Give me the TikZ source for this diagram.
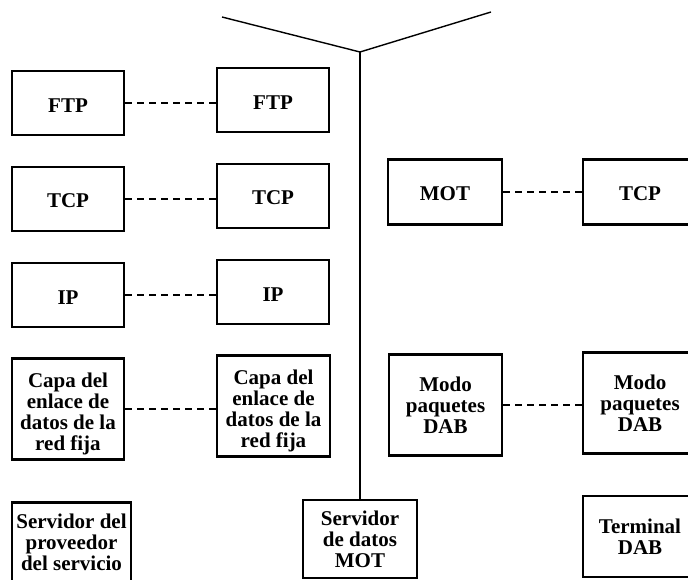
\documentclass[tikz,border=0pt]{standalone}
\usepackage{fontspec}
\setmainfont{Liberation Serif}
\begin{document}
\begin{tikzpicture}[x=1pt,y=-1pt,
  layerbox/.style={draw, line width=2.2pt, inner sep=0pt,
    minimum width=112pt, minimum height=64pt, align=center,
    font=\fontsize{21}{21}\selectfont\bfseries,
    execute at begin node={\rule{0pt}{18pt}}},
  tallbox/.style={layerbox, minimum height=101pt},
  linkbox/.style={tallbox, text depth=0pt},
  peer/.style={line width=1.5pt, dash pattern=on 7pt off 5pt},
  link/.style={line width=1.4pt}]
\useasboundingbox (0,0) rectangle (688,579);
\clip (0,0) rectangle (688,579);

% fixed-network service provider stack
\node[layerbox] (ftpA) at (68,103) {FTP};
\node[layerbox] (tcpA) at (68,199) {TCP};
\node[layerbox] (ipA)  at (68,295) {IP};
\node[linkbox]  (dlA)  at (68,409)
  {\rule{0pt}{20pt}Capa del\\enlace de\\datos de la\\red fija};
\node[layerbox, minimum width=119pt, minimum height=79pt] (srvA) at (71.5,542)
  {Servidor del\\proveedor\\del servicio};

% MOT data server, fixed-network side
\node[layerbox] (ftpB) at (273,100) {FTP};
\node[layerbox] (tcpB) at (273,196) {TCP};
\node[layerbox] (ipB)  at (273,292) {IP};
\node[linkbox, minimum width=113pt] (dlB) at (273.5,406)
  {\rule{0pt}{20pt}Capa del\\enlace de\\datos de la\\red fija};

% MOT data server, broadcast side
\node[layerbox, minimum width=114pt, minimum height=65pt] (motB) at (445,192) {MOT};
\node[tallbox, minimum width=113pt] (pktB) at (445.5,405) {Modo\\paquetes\\DAB};
\node[layerbox, minimum width=114pt, minimum height=78pt] (srvB) at (360,539)
  {Servidor\\de datos\\MOT};

% DAB terminal
\node[layerbox, minimum width=114pt, minimum height=65pt] (tcpC) at (640,192) {TCP};
\node[tallbox, minimum width=114pt] (pktC) at (640,403) {Modo\\paquetes\\DAB};
\node[layerbox, minimum width=114pt, minimum height=81pt] (trmC) at (640,536.5)
  {Terminal\\DAB};

% peer-to-peer relations
\draw[peer] (ftpA.east) -- (ftpA.east -| ftpB.west);
\draw[peer] (tcpA.east) -- (tcpA.east -| tcpB.west);
\draw[peer] (ipA.east)  -- (ipA.east -| ipB.west);
\draw[peer] (dlA.east)  -- (dlA.east -| dlB.west);
\draw[peer] (motB.east) -- (motB.east -| tcpC.west);
\draw[peer] (pktB.east) -- (pktB.east -| pktC.west);

% split of the MOT data server into its two sides
\coordinate (fork) at (360,52);
\coordinate (forkL) at (222,17);
\coordinate (forkR) at (491,12);
\draw[link] (forkL) -- (fork) -- (forkR);
\draw[link, line width=1.2pt] (fork) -- (srvB.north);
\end{tikzpicture}
\end{document}
